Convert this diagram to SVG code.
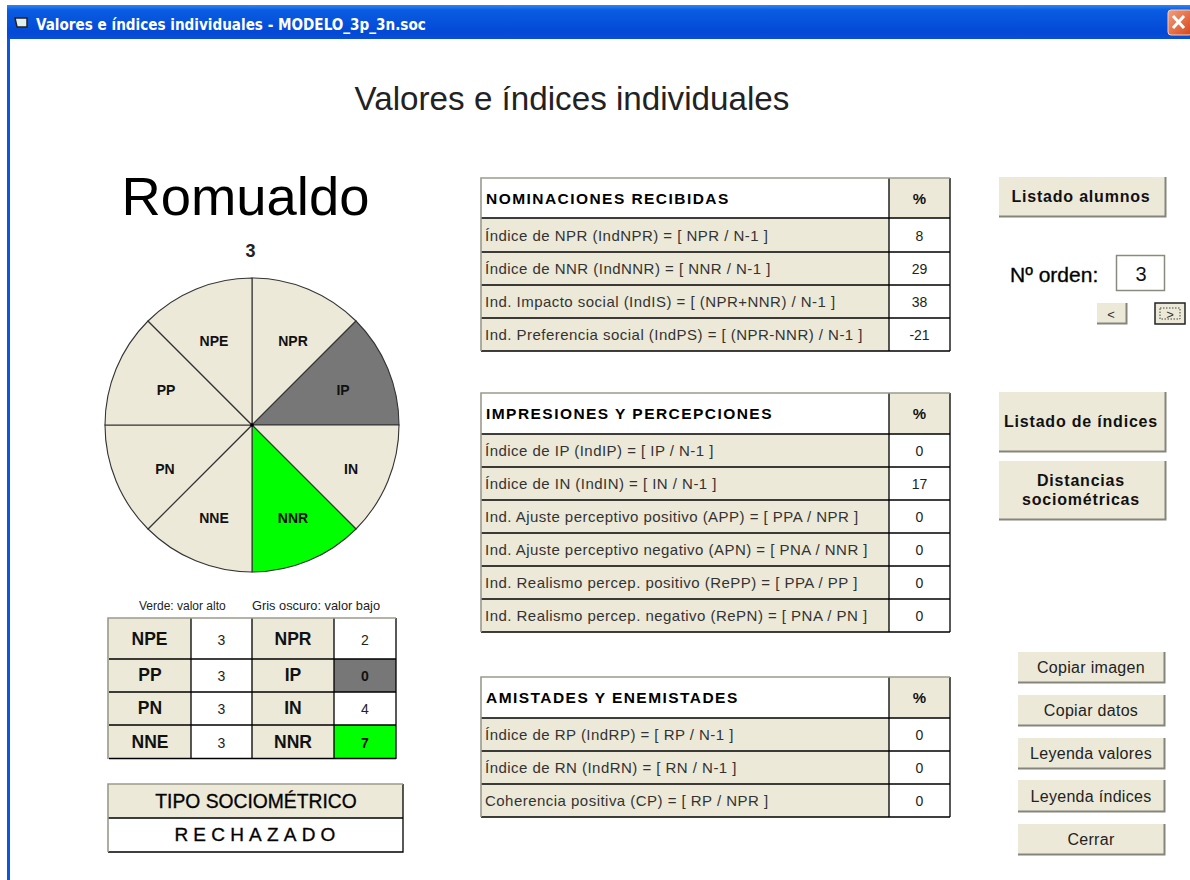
<svg xmlns="http://www.w3.org/2000/svg" width="1190" height="880" viewBox="0 0 1190 880">
<style>
text{font-family:"Liberation Sans",Arial,sans-serif;fill:#000}
.b{font-weight:700}
.m{text-anchor:middle}
.f{fill:#ece9d8}
.w{fill:#fff}
.ln{stroke:#000;stroke-width:1.3;fill:none}
.edge{stroke:#9a9a8c;stroke-width:1.6;fill:none}
.pie{stroke:#333;stroke-width:1.1}
.pl{font-size:14px;font-weight:700;text-anchor:middle;fill:#111}
.s{font-size:15px;letter-spacing:.47px;fill:#333}
.n{font-size:14px;fill:#222;text-anchor:middle}
.h{font-size:15.500px;letter-spacing:1.450px;font-weight:700}
.k{font-size:17.500px;font-weight:700;text-anchor:middle;fill:#111}
.pc{font-size:15px}
.bt{fill:#ece9d8;stroke:none}
.bs{stroke:#85857a;stroke-width:2;fill:none}
.bl{font-size:16px;letter-spacing:.3px;text-anchor:middle;fill:#222}
.bb{font-size:16px;letter-spacing:.8px;font-weight:700;text-anchor:middle;fill:#111}
.sem{stroke:#111;stroke-width:.35}
</style>
<defs>
<linearGradient id="tb" x1="0" y1="0" x2="0" y2="1"><stop offset="0" stop-color="#2f86f0"/><stop offset=".15" stop-color="#0a5ce2"/><stop offset=".8" stop-color="#0349d6"/><stop offset="1" stop-color="#0a4fd8"/></linearGradient>
<linearGradient id="cl" x1="0" y1="0" x2="1" y2="1"><stop offset="0" stop-color="#f0a080"/><stop offset="1" stop-color="#d64518"/></linearGradient>
</defs>
<rect width="1190" height="880" fill="#fff"/>
<g id="window">
<rect x="7" y="5" width="1183" height="34" fill="url(#tb)"/>
<rect x="7" y="39" width="3" height="841" fill="#0a56e0"/>
<path d="M15 18h12v9h-10z" fill="#dfeeee" stroke="#222" stroke-width="1.500"/>
<text x="36" y="30" class="b" style="fill:#fff;font-family:'DejaVu Sans Condensed','Liberation Sans',sans-serif;font-size:15.100px">Valores e índices individuales - MODELO_3p_3n.soc</text>
<rect x="1168" y="10" width="24" height="25" rx="3" fill="url(#cl)" stroke="#f3d0c0"/>
<path d="M1173 16l11 12M1184 16l-11 12" stroke="#fff" stroke-width="3" fill="none"/>
</g>
<text id="title" x="572" y="110" class="m" font-size="33.200" style="fill:#222">Valores e índices individuales</text>
<text id="name" x="245.500" y="215" class="m" font-size="54.400">Romualdo</text>
<text id="order" x="250.500" y="257" class="m b" font-size="18" style="fill:#222">3</text>
<g id="pie">
<path class="pie f" d="M252 425V278A147 147 0 0 1 356 321Z"/>
<path class="pie" fill="#777" d="M252 425L356 321A147 147 0 0 1 399 425Z"/>
<path class="pie f" d="M252 425H399A147 147 0 0 1 356 529Z"/>
<path class="pie" fill="#0f0" d="M252 425L356 529A147 147 0 0 1 252 572Z"/>
<path class="pie f" d="M252 425V572A147 147 0 0 1 148 529Z"/>
<path class="pie f" d="M252 425L148 529A147 147 0 0 1 105 425Z"/>
<path class="pie f" d="M252 425H105A147 147 0 0 1 148 321Z"/>
<path class="pie f" d="M252 425L148 321A147 147 0 0 1 252 278Z"/>
<circle cx="252" cy="425" r="1.800"/>
<text class="pl" x="293" y="346">NPR</text>
<text class="pl" x="343" y="395">IP</text>
<text class="pl" x="351" y="474">IN</text>
<text class="pl" x="293" y="523">NNR</text>
<text class="pl" x="214" y="523">NNE</text>
<text class="pl" x="165" y="474">PN</text>
<text class="pl" x="166" y="395">PP</text>
<text class="pl" x="214" y="346">NPE</text>
</g>
<text id="legend1" x="139" y="610" font-size="12" style="fill:#222">Verde: valor alto</text>
<text id="legend2" x="252" y="610" font-size="12.800" style="fill:#222">Gris oscuro: valor bajo</text>
<g id="values">
<rect class="f" x="108" y="618" width="83" height="141"/>
<rect class="f" x="252" y="618" width="82" height="141"/>
<rect class="w" x="191" y="618" width="61" height="141"/>
<rect class="w" x="334" y="618" width="62" height="141"/>
<rect fill="#777" x="334" y="659" width="62" height="33"/>
<rect fill="#0f0" x="334" y="725" width="62" height="33"/>
<path class="ln" d="M109 659H396M109 692H396M109 725H396M109 758.500H396M191 618V759M252 618V759M334 618V759M396 618V759"/>
<path class="edge" d="M108 759V618H396"/>
<text class="k" x="149.500" y="645">NPE</text><text class="n" x="221.500" y="645">3</text><text class="k" x="293" y="645">NPR</text><text class="n" x="365" y="645">2</text>
<text class="k" x="150" y="681">PP</text><text class="n" x="221.500" y="681">3</text><text class="k" x="293" y="681">IP</text><text class="n b" x="365" y="681" style="fill:#111">0</text>
<text class="k" x="150" y="714">PN</text><text class="n" x="221.500" y="714">3</text><text class="k" x="293" y="714">IN</text><text class="n" x="365" y="714">4</text>
<text class="k" x="150" y="748">NNE</text><text class="n" x="221.500" y="748">3</text><text class="k" x="293" y="748">NNR</text><text class="n b" x="365" y="748" style="fill:#111">7</text>
</g>
<g id="tipo">
<rect class="f" x="108" y="784" width="295" height="34"/>
<rect class="w" x="108" y="818" width="295" height="34"/>
<path class="ln" d="M108 818H403M403 784V852H108"/>
<path class="edge" d="M108 852V784H403"/>
<text class="m sem" x="256" y="808" font-size="19.300">TIPO SOCIOMÉTRICO</text>
<text class="m sem" x="257.500" y="841" font-size="19" letter-spacing="5.200">RECHAZADO</text>
</g>
<g id="tabla-nominaciones">
<rect class="f" x="481" y="218" width="408" height="133"/>
<rect class="f" x="889" y="178" width="61" height="40"/>
<rect class="w" x="481" y="178" width="408" height="40"/>
<path class="ln" d="M481 218H950M481 252H950M481 285H950M481 318H950M481 351H950M889 178V351M950 178V351"/>
<path class="edge" d="M481 351V178H950"/>
<text class="h" x="486" y="204">NOMINACIONES RECIBIDAS</text><text class="k pc" x="919.500" y="204">%</text>
<text class="s" x="485" y="241">Índice de NPR (IndNPR) = [ NPR / N-1 ]</text><text class="n" x="919.500" y="241">8</text>
<text class="s" x="485" y="274">Índice de NNR (IndNNR) = [ NNR / N-1 ]</text><text class="n" x="919.500" y="274">29</text>
<text class="s" x="485" y="307">Ind. Impacto social (IndIS) = [ (NPR+NNR) / N-1 ]</text><text class="n" x="919.500" y="307">38</text>
<text class="s" x="485" y="340">Ind. Preferencia social (IndPS) = [ (NPR-NNR) / N-1 ]</text><text class="n" x="919.500" y="340">-21</text>
</g>
<g id="tabla-impresiones">
<rect class="f" x="481" y="434" width="408" height="198"/>
<rect class="f" x="889" y="393" width="61" height="41"/>
<rect class="w" x="481" y="393" width="408" height="41"/>
<path class="ln" d="M481 434H950M481 467H950M481 500H950M481 533H950M481 566H950M481 599H950M481 632H950M889 393V632M950 393V632"/>
<path class="edge" d="M481 632V393H950"/>
<text class="h" x="486" y="419">IMPRESIONES Y PERCEPCIONES</text><text class="k pc" x="919.500" y="419">%</text>
<text class="s" x="485" y="456">Índice de IP (IndIP) = [ IP / N-1 ]</text><text class="n" x="919.500" y="456">0</text>
<text class="s" x="485" y="489">Índice de IN (IndIN) = [ IN / N-1 ]</text><text class="n" x="919.500" y="489">17</text>
<text class="s" x="485" y="522">Ind. Ajuste perceptivo positivo (APP) = [ PPA / NPR ]</text><text class="n" x="919.500" y="522">0</text>
<text class="s" x="485" y="555">Ind. Ajuste perceptivo negativo (APN) = [ PNA / NNR ]</text><text class="n" x="919.500" y="555">0</text>
<text class="s" x="485" y="588">Ind. Realismo percep. positivo (RePP) = [ PPA / PP ]</text><text class="n" x="919.500" y="588">0</text>
<text class="s" x="485" y="621">Ind. Realismo percep. negativo (RePN) = [ PNA / PN ]</text><text class="n" x="919.500" y="621">0</text>
</g>
<g id="tabla-amistades">
<rect class="f" x="481" y="718" width="408" height="99"/>
<rect class="f" x="889" y="677" width="61" height="41"/>
<rect class="w" x="481" y="677" width="408" height="41"/>
<path class="ln" d="M481 718H950M481 751H950M481 784H950M481 817H950M889 677V817M950 677V817"/>
<path class="edge" d="M481 817V677H950"/>
<text class="h" x="486" y="703">AMISTADES Y ENEMISTADES</text><text class="k pc" x="919.500" y="703">%</text>
<text class="s" x="485" y="740">Índice de RP (IndRP) = [ RP / N-1 ]</text><text class="n" x="919.500" y="740">0</text>
<text class="s" x="485" y="773">Índice de RN (IndRN) = [ RN / N-1 ]</text><text class="n" x="919.500" y="773">0</text>
<text class="s" x="485" y="806">Coherencia positiva (CP) = [ RP / NPR ]</text><text class="n" x="919.500" y="806">0</text>
</g>
<g id="btn-listado-alumnos"><rect class="bt" x="999" y="177" width="167" height="40"/><path class="bs" d="M999 216.500H1165.500V177"/><text class="bb" x="1081" y="202">Listado alumnos</text></g>
<g id="orden">
<text class="sem" x="1010" y="282" font-size="21">Nº orden:</text>
<rect class="w" x="1116.500" y="255.500" width="48" height="35" stroke="#8a8a7e" stroke-width="1.500"/>
<text class="m" x="1141" y="281" font-size="20" style="fill:#111">3</text>
</g>
<g id="btn-prev"><rect class="bt" x="1097" y="303" width="30" height="21"/><path class="bs" d="M1097 323.500H1126.500V303"/><text class="m" x="1111" y="319" font-size="13" style="fill:#333">&lt;</text></g>
<g id="btn-next"><rect class="bt" x="1155" y="303" width="30" height="21" style="stroke:#222;stroke-width:1.500"/><rect x="1160" y="308" width="20" height="11" fill="none" stroke="#444" stroke-dasharray="1.500 1.500"/><text class="m" x="1170" y="319" font-size="13" style="fill:#333">&gt;</text></g>
<g id="btn-listado-indices"><rect class="bt" x="999" y="392" width="167" height="60"/><path class="bs" d="M999 451.500H1165.500V392"/><text class="bb" x="1081" y="427">Listado de índices</text></g>
<g id="btn-distancias"><rect class="bt" x="999" y="461" width="167" height="59"/><path class="bs" d="M999 519.500H1165.500V461"/><text class="bb" x="1081" y="486">Distancias</text><text class="bb" x="1081" y="505">sociométricas</text></g>
<g id="btn-copiar-imagen"><rect class="bt" x="1018" y="652" width="147" height="31"/><path class="bs" d="M1018 682.500H1164.500V652"/><text class="bl" x="1091" y="673">Copiar imagen</text></g>
<g id="btn-copiar-datos"><rect class="bt" x="1018" y="695" width="147" height="31"/><path class="bs" d="M1018 725.500H1164.500V695"/><text class="bl" x="1091" y="716">Copiar datos</text></g>
<g id="btn-leyenda-valores"><rect class="bt" x="1018" y="738" width="147" height="31"/><path class="bs" d="M1018 768.500H1164.500V738"/><text class="bl" x="1091" y="759">Leyenda valores</text></g>
<g id="btn-leyenda-indices"><rect class="bt" x="1018" y="780" width="147" height="32"/><path class="bs" d="M1018 811.500H1164.500V780"/><text class="bl" x="1091" y="802">Leyenda índices</text></g>
<g id="btn-cerrar"><rect class="bt" x="1018" y="824" width="147" height="31"/><path class="bs" d="M1018 854.500H1164.500V824"/><text class="bl" x="1091" y="845">Cerrar</text></g>
</svg>
